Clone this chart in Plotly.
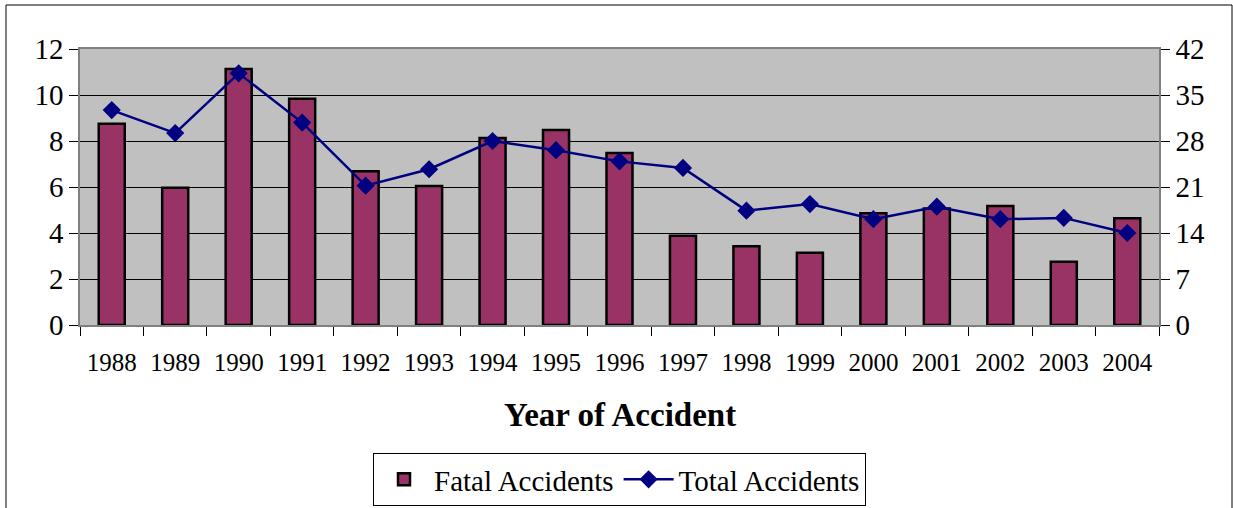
import plotly.graph_objects as go

years = ["1988", "1989", "1990", "1991", "1992", "1993", "1994", "1995", "1996",
         "1997", "1998", "1999", "2000", "2001", "2002", "2003", "2004"]
fatal = [8.75, 5.97, 11.13, 9.84, 6.68, 6.04, 8.13, 8.48, 7.48,
         3.88, 3.42, 3.14, 4.86, 5.07, 5.17, 2.75, 4.64]
total = [32.7, 29.2, 38.3, 30.8, 21.2, 23.7, 28.0, 26.6, 24.9,
         23.9, 17.4, 18.4, 16.1, 18.0, 16.1, 16.3, 14.0]
left_ticks = [0, 2, 4, 6, 8, 10, 12]
right_ticks = [0, 7, 14, 21, 28, 35, 42]

FONT = "Times New Roman, Liberation Serif, serif"

fig = go.Figure()
fig.add_trace(go.Bar(
    x=years, y=fatal, name="Fatal Accidents",
    marker=dict(color="#993366", line=dict(color="black", width=2.5)),
    width=0.41, yaxis="y",
))
fig.add_trace(go.Scatter(
    x=years, y=total, name="Total Accidents", mode="lines+markers",
    line=dict(color="#000080", width=2.5),
    marker=dict(symbol="diamond", size=14, color="#000080"),
    yaxis="y2",
))

W, H = 1233, 508
L, R, T, B = 80, 74, 49, 183
pw, ph = W - L - R, H - T - B

def px(x):
    return (x - L) / pw

def py(y):
    return (H - B - y) / ph

fig.update_layout(
    width=W, height=H,
    margin=dict(l=L, r=R, t=T, b=B, pad=0, autoexpand=False),
    paper_bgcolor="white", plot_bgcolor="#C0C0C0",
    font=dict(family=FONT, color="black"),
    showlegend=True,
    xaxis=dict(
        type="category", range=[-0.5, len(years) - 0.5],
        tickson="boundaries", ticks="outside", ticklen=9,
        tickcolor="black", tickwidth=1, automargin=False,
        ticklabelstandoff=14,
        showline=True, linecolor="#808080", linewidth=1.5, mirror=True,
        showgrid=False, tickfont=dict(size=25, family=FONT),
    ),
    yaxis=dict(
        range=[0, 12], tickvals=left_ticks, ticks="outside", ticklen=9,
        tickcolor="black", showline=True, linecolor="#808080", linewidth=1.5,
        showgrid=True, gridcolor="black", gridwidth=1, zeroline=False,
        automargin=False, tickfont=dict(size=29, family=FONT),
    ),
    yaxis2=dict(
        range=[0, 42], tickvals=right_ticks, overlaying="y", side="right",
        ticks="outside", ticklen=9, tickcolor="black",
        showline=True, linecolor="#808080", linewidth=1.5,
        showgrid=False, zeroline=False, automargin=False,
        tickfont=dict(size=29, family=FONT),
    ),
    legend=dict(
        orientation="h", x=0.5, xanchor="center", y=py(453), yanchor="top",
        bordercolor="black", borderwidth=1, bgcolor="white",
        font=dict(size=29, family=FONT), traceorder="normal",
        itemwidth=50,
    ),
    annotations=[dict(
        text="<b>Year of Accident</b>", xref="paper", yref="paper",
        x=0.5, y=py(415), xanchor="center", yanchor="middle",
        showarrow=False, font=dict(size=33, family=FONT),
    )],
    shapes=[dict(
        type="rect", xref="paper", yref="paper",
        x0=px(6), x1=px(1232), y0=py(512), y1=py(5),
        line=dict(color="black", width=1), layer="below",
    )],
)

fig.write_html("out.html", config={"displayModeBar": False},
               post_script="document.body.style.margin='0';")
